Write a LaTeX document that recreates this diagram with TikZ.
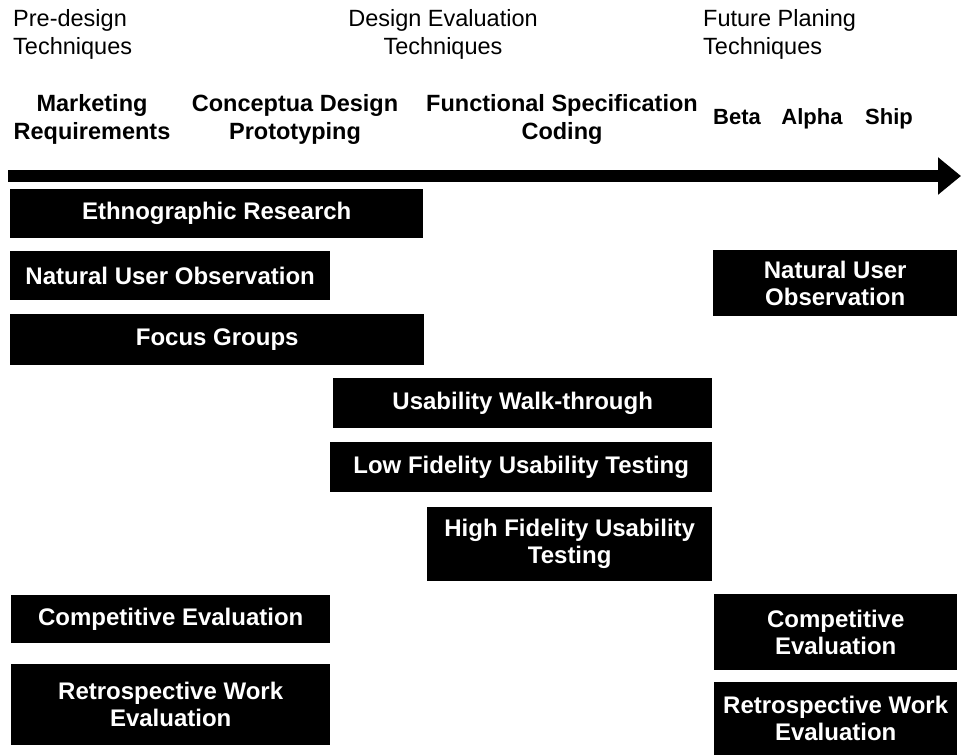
\documentclass[tikz,border=0pt]{standalone}
\usepackage{fontspec}
\setmainfont{Liberation Sans}
\usetikzlibrary{arrows.meta}
\begin{document}
\begin{tikzpicture}[x=1pt,y=-1pt,
  hdr/.style={font=\fontsize{23.5}{28}\selectfont, inner sep=0pt},
  phase/.style={font=\bfseries\fontsize{23.5}{28}\selectfont, inner sep=0pt, align=center},
  stage/.style={font=\bfseries\fontsize{22}{28}\selectfont, inner sep=0pt, anchor=base},
  bar/.style={fill=black, draw=none, text=white, font=\bfseries\fontsize{24}{27}\selectfont,
              align=center, inner sep=0pt, anchor=north west},
  timeline/.style={line width=12pt, -{Triangle[length=23pt,width=36pt]}}
]
\useasboundingbox (0,0) rectangle (961,755);

% header rows
\node[hdr, align=left, anchor=west] (pre) at (13,34) {Pre-design\\Techniques};
\node[hdr, align=center] (deval) at (443,34) {Design Evaluation\\Techniques};
\node[hdr, align=left, anchor=west] (fut) at (703,34) {Future Planing\\Techniques};

\node[phase] (mkt) at (92,119) {Marketing\\Requirements};
\node[phase] (con) at (295,119) {Conceptua Design\\Prototyping};
\node[phase] (fun) at (562,119) {Functional Specification\\Coding};
\node[stage] (beta) at (737,124) {Beta};
\node[stage] (alpha) at (812,124) {Alpha};
\node[stage] (ship) at (889,124) {Ship};

% timeline arrow
\coordinate (tstart) at (8,176);
\coordinate (tend) at (961,176);
\draw[timeline] (tstart) -- (tend);

% technique bars
\node[bar, minimum width=413pt, minimum height=49pt] (eth) at (10,189) {Ethnographic Research};
\node[bar, minimum width=320pt, minimum height=49pt] (nuo1) at (10,251) {Natural User Observation};
\node[bar, minimum width=414pt, minimum height=51pt] (fg) at (10,314) {Focus Groups};
\node[bar, minimum width=244pt, minimum height=66pt] (nuo2) at (713,250) {Natural User\\Observation};
\node[bar, minimum width=379pt, minimum height=50pt] (uwt) at (333,378) {Usability Walk-through};
\node[bar, minimum width=382pt, minimum height=50pt] (lfut) at (330,442) {Low Fidelity Usability Testing};
\node[bar, minimum width=285pt, minimum height=74pt] (hfut) at (427,507) {High Fidelity Usability\\Testing};
\node[bar, minimum width=319pt, minimum height=48pt] (ce1) at (11,595) {Competitive Evaluation};
\node[bar, minimum width=243pt, minimum height=76pt] (ce2) at (714,594) {Competitive\\Evaluation};
\node[bar, minimum width=319pt, minimum height=81pt] (rwe1) at (11,664) {Retrospective Work\\Evaluation};
\node[bar, minimum width=243pt, minimum height=73pt] (rwe2) at (714,682) {Retrospective Work\\Evaluation};
\end{tikzpicture}
\end{document}
